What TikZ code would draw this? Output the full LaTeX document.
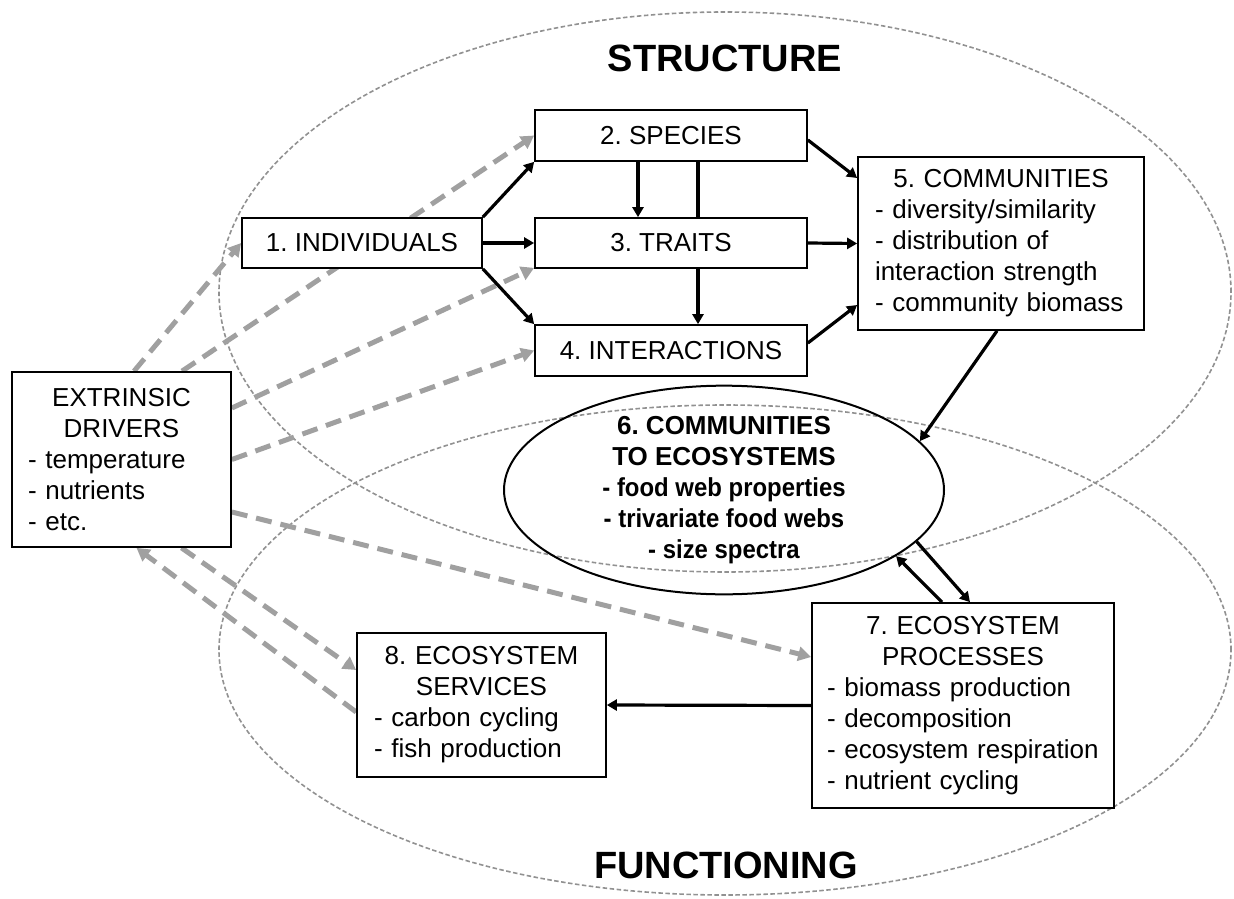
\documentclass[tikz,border=0pt]{standalone}
\usepackage{fontspec}
\usepackage{graphicx}
\setmainfont{Liberation Sans}
\usetikzlibrary{arrows.meta,shapes.geometric}
\definecolor{dgray}{RGB}{160,160,160}
\definecolor{egray}{RGB}{145,145,145}
\newcommand\fsn{\fontsize{26}{31}\selectfont}
\newcommand\fsb{\fontsize{26}{31}\selectfont\bfseries}
\newcommand\fst{\fontsize{38}{40}\selectfont\bfseries}
\newcommand\nb[1]{\scalebox{0.92}[1]{#1}}
\pgfdeclarelayer{bg}
\pgfsetlayers{bg,main}
\frenchspacing
\begin{document}
\frenchspacing
\begin{tikzpicture}[x=1pt,y=-1pt,
  bx/.style={draw=black, line width=1.7pt, fill=white, inner sep=0pt, font=\fsn, align=center},
  ell/.style={draw=egray, line width=1.6pt, dash pattern=on 4.5pt off 2.5pt},
  garrow/.style={draw=dgray, line width=5pt, dash pattern=on 16pt off 9pt, -{Triangle[length=13pt,width=14pt]}},
  sarrow/.style={draw=black, line width=3.2pt, -{Triangle[length=10pt,width=11pt]}},
  sline/.style={draw=black, line width=3.2pt}]
\useasboundingbox (0,0) rectangle (1234,899);

% titles
\node[font=\fst] (st) at (725,58) {STRUCTURE};
\node[font=\fst] (fn) at (726,865) {FUNCTIONING};

% boxes
\node[bx, minimum width=240pt, minimum height=50pt] (b1) at (362,243) {1. INDIVIDUALS};
\node[bx, minimum width=272pt, minimum height=51pt] (b2) at (671,135.5) {2. SPECIES};
\node[bx, minimum width=272pt, minimum height=50pt] (b3) at (671,243) {3. TRAITS};
\node[bx, minimum width=272pt, minimum height=51pt] (b4) at (671,350.5) {4. INTERACTIONS};
\node[bx, minimum width=286pt, minimum height=173pt, text width=252pt, align=left] (b5) at (1001,243.5)
  {\makebox[252pt]{5. COMMUNITIES}\\- diversity/similarity\\- distribution of\\interaction strength\\- community biomass};
\node[bx, minimum width=219pt, minimum height=175pt, text width=187pt, align=left] (ex) at (121.5,459.5)
  {\makebox[187pt]{EXTRINSIC}\\\makebox[187pt]{DRIVERS}\\- temperature\\- nutrients\\- etc.};
\node[bx, minimum width=302pt, minimum height=205pt, text width=272pt, align=left] (b7) at (963,705.5)
  {\makebox[272pt]{7. ECOSYSTEM}\\\makebox[272pt]{PROCESSES}\\- biomass production\\- decomposition\\\mbox{- ecosystem respiration}\\- nutrient cycling};
\node[bx, minimum width=249pt, minimum height=144pt, text width=215pt, align=left] (b8) at (481.5,705)
  {\makebox[215pt]{8. ECOSYSTEM}\\\makebox[215pt]{SERVICES}\\- carbon cycling\\- fish production};
\node[ellipse, draw=black, line width=2pt, minimum width=440pt, minimum height=184pt, inner sep=0pt,
  align=center, font=\fsb] (e6) at (724,490)
  {6. COMMUNITIES\\TO ECOSYSTEMS\\\nb{- food web properties}\\\nb{- trivariate food webs}\\\nb{- size spectra}};

\begin{pgfonlayer}{bg}
  \draw[ell] (725,292) ellipse [x radius=506pt, y radius=280pt];
  \draw[ell] (725,650) ellipse [x radius=506pt, y radius=245pt];
  \draw[garrow] ([xshift=60.5pt]ex.north) -- (b2.west);
  \draw[garrow] ([xshift=12.5pt]ex.north) -- (b1.west);
  \draw[garrow] ([yshift=51.5pt]ex.east) -- ([yshift=1pt]b3.south west);
  \draw[garrow] (ex.east) -- (b4.west);
  \draw[garrow] ([yshift=-52.5pt]ex.east) -- ([yshift=48.5pt]b7.west);
  \draw[garrow] ([xshift=60pt]ex.south) -- ([yshift=35pt]b8.west);
  \draw[garrow] ([yshift=-7pt]b8.west) -- ([xshift=15pt]ex.south);
\end{pgfonlayer}

% solid connectors
\draw[sarrow] (b1.north east) -- (b2.south west);
\draw[sarrow] (b1.east) -- (b3.west);
\draw[sarrow] (b1.south east) -- (b4.north west);
\draw[sarrow] ([xshift=-33pt]b2.south) -- ([xshift=-33pt]b3.north);
\draw[sline] ([xshift=27pt]b3.north) -- ([xshift=27pt]b2.south);
\draw[sarrow] ([xshift=27pt]b3.south) -- ([xshift=27pt]b4.north);
\draw[sarrow] ([yshift=-4.5pt]b2.east) -- ([yshift=65.5pt]b5.west);
\draw[sarrow] (b3.east) -- (b5.west);
\draw[sarrow] ([yshift=7.5pt]b4.east) -- ([yshift=-61.5pt]b5.west);
\draw[sarrow] ([xshift=-4pt]b5.south) -- (e6.14);
\draw[sarrow] (e6.-15) -- ([xshift=7pt]b7.north);
\draw[sarrow] ([xshift=-21pt]b7.north) -- (e6.-21);
\draw[sarrow] (b7.west) -- (b8.east);
\end{tikzpicture}
\end{document}
